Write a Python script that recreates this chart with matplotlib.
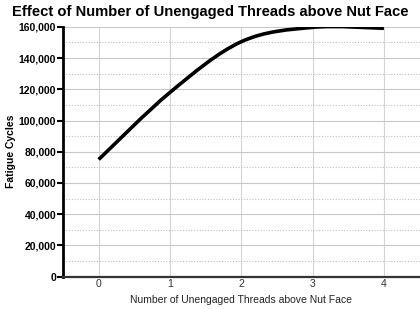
import matplotlib
matplotlib.use("Agg")
import matplotlib.pyplot as plt
from matplotlib.path import Path
from matplotlib.patches import PathPatch
from matplotlib.ticker import MultipleLocator, FuncFormatter

plt.rcParams['font.family'] = ['Liberation Sans', 'DejaVu Sans']

threads = [0, 1, 2, 3, 4]
cycles = [75000, 118000, 150500, 159700, 159100]
x_ticks = [0, 1, 2, 3, 4]
title = "Effect of Number of Unengaged Threads above Nut Face"
xlabel = "Number of Unengaged Threads above Nut Face"
ylabel = "Fatigue Cycles"

fig = plt.figure(figsize=(4.2, 3.09), dpi=100)
ax = fig.add_axes([0.15, 0.105, 0.849, 0.808])

# smoothed line (Catmull-Rom as cubic Bezier, like a spreadsheet smoothed line)
pts = list(zip(threads, cycles))
verts = [pts[0]]
codes = [Path.MOVETO]
n = len(pts)
for i in range(n - 1):
    p0 = pts[i - 1] if i > 0 else pts[i]
    p1 = pts[i]
    p2 = pts[i + 1]
    p3 = pts[i + 2] if i + 2 < n else pts[i + 1]
    c1 = (p1[0] + (p2[0] - p0[0]) / 6, p1[1] + (p2[1] - p0[1]) / 6)
    c2 = (p2[0] - (p3[0] - p1[0]) / 6, p2[1] - (p3[1] - p1[1]) / 6)
    verts += [c1, c2, p2]
    codes += [Path.CURVE4] * 3
ax.add_patch(PathPatch(Path(verts, codes), facecolor='none', edgecolor='black',
                       lw=2.6, capstyle='butt', zorder=3))

ax.set_xlim(-0.5, 4.5)
ax.set_ylim(0, 160000)
ax.set_xticks(x_ticks)
ax.yaxis.set_major_locator(MultipleLocator(20000))
ax.yaxis.set_minor_locator(MultipleLocator(10000))
ax.yaxis.set_major_formatter(FuncFormatter(lambda v, p: f"{int(v):,}"))

ax.grid(axis='y', which='major', color='#c8c8c8', lw=0.8, ls='-')
ax.grid(axis='y', which='minor', color='#c0c0c0', lw=0.8, ls=(0, (1, 1.5)))
ax.grid(axis='x', which='major', color='#d4d4d4', lw=0.8, ls='-')
ax.set_axisbelow(True)

for s in ['top', 'right']:
    ax.spines[s].set_visible(False)
ax.spines['left'].set_linewidth(2.0)
ax.spines['left'].set_color('black')
ax.spines['bottom'].set_linewidth(1.6)
ax.spines['bottom'].set_color('#333333')

ax.tick_params(axis='y', which='major', length=4, width=1.5, labelsize=7.5, pad=1,
               colors='black')
ax.tick_params(axis='y', which='minor', length=0)
ax.tick_params(axis='x', length=0, labelsize=7.5, pad=2, labelcolor='#333333')
for lab in ax.get_yticklabels():
    lab.set_fontweight('bold')

ax.set_xlabel(xlabel, fontsize=7.5, color='#222222', labelpad=4)
ax.set_ylabel(ylabel, fontsize=7.5, fontweight='bold', labelpad=2)
fig.text(0.5, 0.96, title, ha='center', va='center', fontsize=10.6, fontweight='bold')

fig.savefig("out.png", dpi=100)
